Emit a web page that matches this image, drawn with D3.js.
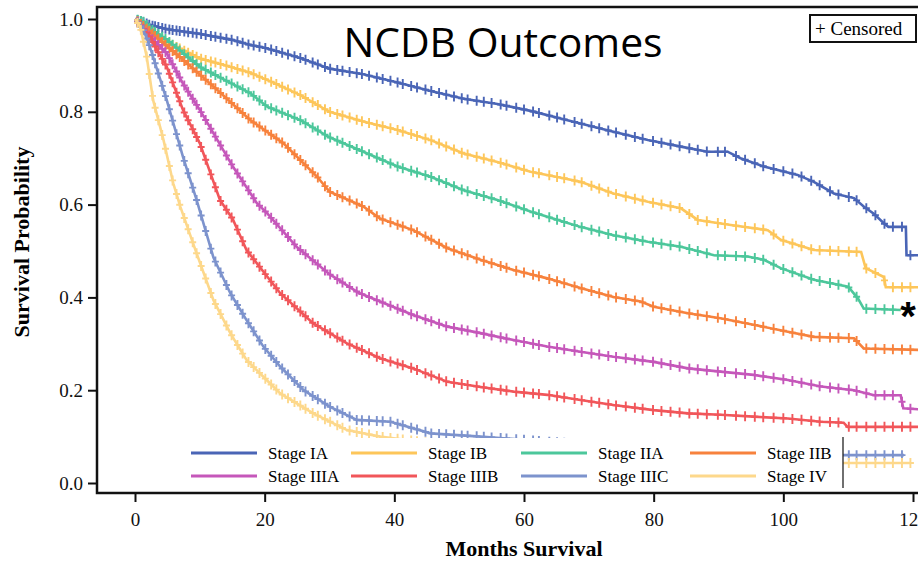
<!DOCTYPE html>
<html>
<head>
<meta charset="utf-8">
<script src="https://cdn.jsdelivr.net/npm/d3@7/dist/d3.min.js"></script>
<style>
  body { margin: 0; background: #fff; }
  svg { display: block; }
</style>
</head>
<body>
<svg id="chart" width="918" height="561"></svg>
<script>
// Kaplan-Meier curves: [month, survival]
const stageIA = [[0, 1], [1, 0.995], [2.3, 0.987], [5, 0.978], [10, 0.968], [15, 0.955], [17.8, 0.944], [20, 0.938], [25.5, 0.916], [30, 0.893], [35.2, 0.881], [40.5, 0.863], [45.6, 0.845], [50.7, 0.828], [55.9, 0.817], [61, 0.802], [66.1, 0.784], [68.7, 0.775], [73.8, 0.757], [79.1, 0.739], [84.2, 0.725], [88.3, 0.714], [91.4, 0.714], [93.4, 0.7], [97, 0.682], [102.2, 0.664], [104.7, 0.649], [107.8, 0.624], [110.9, 0.614], [112.4, 0.596], [113.9, 0.581], [115.5, 0.56], [116.2, 0.552], [118.9, 0.552], [119, 0.491], [120.8, 0.491]];
const stageIB = [[0, 1], [2.3, 0.976], [4.9, 0.95], [10, 0.915], [14, 0.9], [17.8, 0.884], [21, 0.865], [25.5, 0.836], [30, 0.8], [35.2, 0.779], [40.5, 0.761], [45.6, 0.739], [50.7, 0.71], [55.9, 0.692], [61, 0.671], [66.1, 0.657], [68.7, 0.649], [73.8, 0.624], [79.1, 0.606], [84.2, 0.592], [86.8, 0.567], [91.9, 0.556], [97.6, 0.545], [99.6, 0.524], [104.7, 0.502], [112, 0.498], [112.7, 0.463], [115.5, 0.444], [115.8, 0.422], [120.8, 0.422]];
const stageIIA = [[0, 1], [1.3, 0.994], [2.3, 0.98], [4.9, 0.955], [10, 0.897], [17.8, 0.84], [20.4, 0.811], [25.5, 0.782], [30, 0.745], [35.2, 0.714], [40.5, 0.682], [45.6, 0.66], [50.7, 0.631], [55.9, 0.61], [61, 0.585], [66.1, 0.563], [68.7, 0.552], [73.8, 0.534], [79.1, 0.52], [84.2, 0.509], [89.3, 0.491], [94.5, 0.488], [97, 0.481], [99.6, 0.463], [104.7, 0.438], [110, 0.423], [111.5, 0.398], [112.4, 0.376], [118.1, 0.373]];
const stageIIB = [[0, 1], [2.3, 0.973], [7.4, 0.912], [12.7, 0.847], [17.8, 0.782], [22.9, 0.732], [28.1, 0.66], [30, 0.628], [35.2, 0.596], [37.8, 0.57], [42.9, 0.545], [48.2, 0.506], [53.3, 0.481], [58.4, 0.459], [63.6, 0.441], [68.7, 0.42], [73.8, 0.401], [78, 0.391], [80, 0.38], [85.3, 0.366], [90.3, 0.355], [95.4, 0.341], [100.7, 0.326], [104.7, 0.315], [110.9, 0.312], [112.4, 0.29], [120.8, 0.287]];
const stageIIIA = [[0, 1], [2.3, 0.962], [4.9, 0.926], [7.4, 0.861], [10, 0.804], [15.1, 0.682], [18.8, 0.603], [20.4, 0.581], [25, 0.508], [30, 0.45], [34.5, 0.41], [39.4, 0.382], [42.9, 0.362], [48.2, 0.337], [53.3, 0.323], [58.4, 0.308], [63.6, 0.294], [68.7, 0.283], [73.8, 0.272], [80, 0.261], [85.3, 0.247], [90.3, 0.24], [95.4, 0.233], [100.7, 0.222], [105.8, 0.208], [110.9, 0.2], [114, 0.189], [118.1, 0.189], [118.5, 0.161], [120.8, 0.159]];
const stageIIIB = [[0, 1], [2.3, 0.96], [4.9, 0.897], [7.4, 0.804], [10, 0.732], [13.1, 0.61], [15.1, 0.568], [17.2, 0.502], [22.4, 0.409], [27.5, 0.344], [32.7, 0.301], [37.8, 0.269], [42.9, 0.247], [48.2, 0.218], [53.3, 0.207], [58.4, 0.197], [63.6, 0.19], [68.7, 0.179], [73.8, 0.168], [80, 0.157], [85.3, 0.15], [90.3, 0.147], [95.4, 0.143], [100.7, 0.139], [105.8, 0.132], [109.3, 0.13], [109.9, 0.121], [120.8, 0.121]];
const stageIIIC = [[0, 1], [1.3, 0.976], [2.3, 0.94], [4.9, 0.825], [7.4, 0.703], [9.5, 0.61], [12.1, 0.486], [14.7, 0.409], [17.2, 0.351], [19.8, 0.294], [22.4, 0.251], [26, 0.2], [30.1, 0.164], [34.2, 0.136], [39.4, 0.132], [45.6, 0.107], [53.3, 0.1], [65, 0.088], [80, 0.075], [100, 0.064], [109.3, 0.06], [118.6, 0.06]];
const stageIV = [[0, 1], [0.8, 0.983], [1.8, 0.919], [2.8, 0.825], [4.4, 0.739], [5.9, 0.646], [7, 0.595], [9.5, 0.495], [12.1, 0.394], [14.7, 0.323], [17.2, 0.265], [19.8, 0.229], [22.4, 0.193], [27.5, 0.15], [32.7, 0.114], [37.8, 0.1], [50, 0.078], [70, 0.06], [90, 0.05], [109.3, 0.043], [119.6, 0.043]];

const stageNames = ["Stage IA", "Stage IB", "Stage IIA", "Stage IIB", "Stage IIIA", "Stage IIIB", "Stage IIIC", "Stage IV"];
const stageColors = ["#4a65b6", "#fdc65a", "#4cc79b", "#f7823d", "#c557ba", "#f1565a", "#7d93cd", "#fdd88b"];
const stageCurves = [stageIA, stageIB, stageIIA, stageIIB, stageIIIA, stageIIIB, stageIIIC, stageIV];

// months where a censor mark "+" sits on each curve
const censorMonths = [0.4, 0.9, 1.3, 1.8, 2.2, 2.7, 3.1, 3.6, 4.2, 4.7, 5.3, 5.8, 6.4, 6.9, 7.6, 8.2, 8.9, 9.5, 10.2, 10.9, 11.7, 12.4, 13.2, 14.1, 14.9, 15.8, 16.6, 17.5, 18.3, 19.2, 20.1, 21.0, 21.8, 22.7, 23.6, 24.6, 25.5, 26.3, 27.4, 28.2, 29.3, 30.1, 31.2, 32.0, 33.1, 34.2, 35.0, 36.1, 37.3, 38.2, 39.4, 40.5, 41.3, 42.6, 43.5, 44.8, 45.7, 46.9, 48.0, 49.2, 50.4, 51.3, 52.7, 53.8, 55.0, 56.4, 57.3, 58.8, 60.0, 61.4, 62.3, 63.9, 65.1, 66.2, 67.8, 68.9, 70.4, 71.6, 73.0, 74.2, 75.7, 77.1, 78.3, 79.9, 81.2, 82.6, 84.0, 85.5, 86.8, 88.2, 89.9, 91.0, 92.7, 94.1, 95.6, 96.9, 98.5, 100.0, 101.4, 102.8, 104.3, 105.6, 107.2, 108.5, 110.1, 111.3, 112.8, 114.2, 115.6, 116.9, 118.3, 119.6];

const xTicks = [0, 20, 40, 60, 80, 100, 120];
const yTicks = [0, 0.2, 0.4, 0.6, 0.8, 1.0];

const serif = "'Liberation Serif', 'Times New Roman', serif";

const svg = d3.select("#chart");
const x = d3.scaleLinear().domain([0, 120]).range([135, 913]);
const y = d3.scaleLinear().domain([0, 1]).range([483, 19]);

// Helper - survival value on the drawn (linear) curve at a given month
function valueAt(curve, m) {
    for (let i = 1; i < curve.length; i++) {
        const [m0, v0] = curve[i - 1];
        const [m1, v1] = curve[i];
        if (m >= m0 && m <= m1) {
            if (m1 === m0) return v1;
            return v0 + (v1 - v0) * (m - m0) / (m1 - m0);
        }
    }
    return null;
}

svg.append("defs").append("clipPath").attr("id", "plotClip")
    .append("rect").attr("x", 98).attr("y", 8).attr("width", 830).attr("height", 484);

const plot = svg.append("g").attr("clip-path", "url(#plotClip)");
const line = d3.line().x(d => x(d[0])).y(d => y(d[1]));

stageCurves.forEach((curve, i) => {
    const g = plot.append("g");
    g.append("path")
        .attr("d", line(curve))
        .attr("fill", "none")
        .attr("stroke", stageColors[i])
        .attr("stroke-width", 2.6);
    const last = curve[curve.length - 1][0];
    const marks = censorMonths.filter(m => m <= last);
    g.selectAll("path.censor")
        .data(marks)
        .join("path")
        .attr("class", "censor")
        .attr("d", m => {
            const px = x(m), py = y(valueAt(curve, m));
            return `M${px - 3.5},${py}H${px + 3.5}M${px},${py - 5}V${py + 5}`;
        })
        .attr("stroke", stageColors[i])
        .attr("stroke-width", 1.9)
        .attr("fill", "none");
});

// frame
svg.append("path")
    .attr("d", "M930,7H97V493H930")
    .attr("fill", "none")
    .attr("stroke", "#111")
    .attr("stroke-width", 2.5);

// axes
const yAxis = svg.append("g")
    .attr("transform", "translate(97,0)")
    .call(d3.axisLeft(y).tickValues(yTicks).tickFormat(d3.format(".1f")).tickSize(9).tickPadding(5));
const xAxis = svg.append("g")
    .attr("transform", "translate(0,493)")
    .call(d3.axisBottom(x).tickValues(xTicks).tickSize(9).tickPadding(11));
[xAxis, yAxis].forEach(a => {
    a.select(".domain").remove();
    a.selectAll(".tick line").attr("stroke", "#111").attr("stroke-width", 2);
    a.selectAll(".tick text").attr("fill", "#111").style("font-family", serif).style("font-size", "19px");
});

// axis titles
svg.append("text")
    .attr("transform", "translate(29,242) rotate(-90)")
    .attr("text-anchor", "middle")
    .style("font-family", serif).style("font-size", "22px").style("font-weight", "bold")
    .text("Survival Probability");
svg.append("text")
    .attr("x", 524).attr("y", 556)
    .attr("text-anchor", "middle")
    .style("font-family", serif).style("font-size", "22px").style("font-weight", "bold")
    .text("Months Survival");

// legend - white box hides the tails of the lower curves
const legend = svg.append("g");
legend.append("rect")
    .attr("x", 180).attr("y", 438).attr("width", 663).attr("height", 53)
    .attr("fill", "#fff");
legend.append("line")
    .attr("x1", 843).attr("x2", 843).attr("y1", 437).attr("y2", 488)
    .attr("stroke", "#222").attr("stroke-width", 1.3);
const colX = [191, 351, 521, 690];
const rowY = [453, 476];
stageNames.forEach((name, i) => {
    const lx = colX[i % 4], ly = rowY[Math.floor(i / 4)];
    legend.append("line")
        .attr("x1", lx).attr("x2", lx + 66).attr("y1", ly).attr("y2", ly)
        .attr("stroke", stageColors[i]).attr("stroke-width", 2.8);
    legend.append("text")
        .attr("x", lx + 77).attr("y", ly + 6)
        .style("font-family", serif).style("font-size", "17px")
        .text(name);
});

// censored key
svg.append("rect")
    .attr("x", 810).attr("y", 15).attr("width", 106).attr("height", 27)
    .attr("fill", "#fff").attr("stroke", "#111").attr("stroke-width", 2);
svg.append("text")
    .attr("x", 815).attr("y", 35)
    .style("font-family", serif).style("font-size", "19px")
    .text("+ Censored");

// title
const title = svg.append("text")
    .attr("x", 503).attr("y", 57)
    .attr("text-anchor", "middle")
    .style("font-family", "'Open Sans', 'Liberation Sans', sans-serif")
    .style("font-size", "40px")
    .text("NCDB Outcomes");
const tw = title.node().getComputedTextLength();
title.style("font-size", (40 * 319 / tw).toFixed(1) + "px");

svg.append("text")
    .attr("x", 908).attr("y", 330)
    .attr("text-anchor", "middle")
    .style("font-family", "'Liberation Sans', sans-serif")
    .style("font-size", "40px").style("font-weight", "bold")
    .text("*");
</script>
</body>
</html>
